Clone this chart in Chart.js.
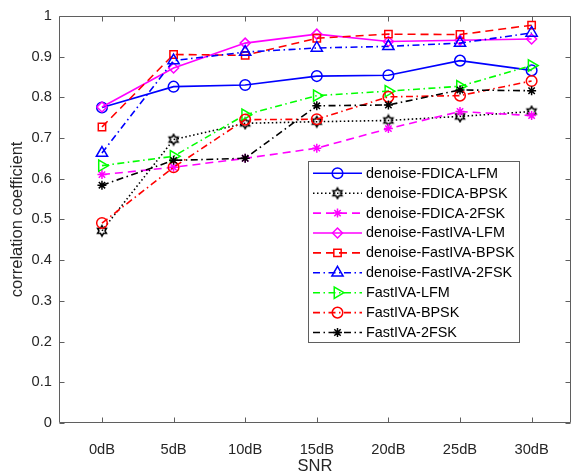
<!DOCTYPE html>
<html>
<head>
<meta charset="utf-8">
<script src="https://cdn.jsdelivr.net/npm/chart.js@4/dist/chart.umd.min.js"></script>
<style>
  html, body { margin: 0; padding: 0; background: #fff; }
  canvas { display: block; }
</style>
</head>
<body>
<canvas id="chart" width="579" height="473"></canvas>
<script>
const SNR_LABELS = ['0dB', '5dB', '10dB', '15dB', '20dB', '25dB', '30dB'];
const Y_TICKS = [0, 0.1, 0.2, 0.3, 0.4, 0.5, 0.6, 0.7, 0.8, 0.9, 1];

const SERIES_NAMES = [
  'denoise-FDICA-LFM', 'denoise-FDICA-BPSK', 'denoise-FDICA-2FSK',
  'denoise-FastIVA-LFM', 'denoise-FastIVA-BPSK', 'denoise-FastIVA-2FSK',
  'FastIVA-LFM', 'FastIVA-BPSK', 'FastIVA-2FSK',
];

const dnFdicaLfm   = [0.775, 0.826, 0.830, 0.852, 0.854, 0.890, 0.866];
const dnFdicaBpsk  = [0.472, 0.696, 0.736, 0.740, 0.743, 0.753, 0.765];
const dnFdica2fsk  = [0.610, 0.628, 0.650, 0.675, 0.723, 0.765, 0.755];
const dnFastivaLfm = [0.776, 0.872, 0.933, 0.955, 0.937, 0.940, 0.943];
const dnFastivaBpsk = [0.727, 0.905, 0.903, 0.945, 0.955, 0.954, 0.977];
const dnFastiva2fsk = [0.663, 0.890, 0.911, 0.921, 0.925, 0.933, 0.958];
const fastivaLfm   = [0.632, 0.655, 0.757, 0.804, 0.815, 0.827, 0.878];
const fastivaBpsk  = [0.491, 0.628, 0.745, 0.746, 0.801, 0.804, 0.840];
const fastiva2fsk  = [0.584, 0.645, 0.650, 0.779, 0.781, 0.818, 0.816];

const FONT = "'Liberation Sans', Arial, Helvetica, sans-serif";
const INK = '#262626';
const AXIS = '#5f5f5f';

const SOLID = [];
const DASHED = [8, 5];
const DOTTED = [1.5, 2.5];
const DASHDOT = [7, 3.5, 1.5, 3.5];

// MATLAB-style six-pointed star, drawn once and reused as a point image
function hexagram(color) {
  const c = document.createElement('canvas');
  c.width = 14; c.height = 14;
  const g = c.getContext('2d');
  const R = 5.2, r = R / Math.sqrt(3);
  g.beginPath();
  for (let k = 0; k < 12; k++) {
    const a = -Math.PI / 2 + k * Math.PI / 6;
    const rad = k % 2 === 0 ? R : r;
    const px = 7 + rad * Math.cos(a), py = 7 + rad * Math.sin(a);
    if (k === 0) g.moveTo(px, py); else g.lineTo(px, py);
  }
  g.closePath();
  g.strokeStyle = color;
  g.lineWidth = 1.5;
  g.stroke();
  return c;
}

const STYLES = [
  { color: '#0000ff', dash: SOLID,   point: 'circle',   radius: 5.3 },
  { color: '#000000', dash: DOTTED,  point: hexagram('#000000'), radius: 5 },
  { color: '#ff00ff', dash: DASHED,  point: 'star',     radius: 4.5 },
  { color: '#ff00ff', dash: SOLID,   point: 'rectRot',  radius: 5 },
  { color: '#ff0000', dash: DASHED,  point: 'rect',     radius: 5.2 },
  { color: '#0000ff', dash: DASHDOT, point: 'triangle', radius: 6.5 },
  { color: '#00ff00', dash: DASHDOT, point: 'triangle', radius: 6.5, rotation: 90 },
  { color: '#ff0000', dash: DASHDOT, point: 'circle',   radius: 5.3 },
  { color: '#000000', dash: DASHDOT, point: 'star',     radius: 4.5 },
];

const SERIES = [dnFdicaLfm, dnFdicaBpsk, dnFdica2fsk, dnFastivaLfm, dnFastivaBpsk,
  dnFastiva2fsk, fastivaLfm, fastivaBpsk, fastiva2fsk];

const datasets = SERIES.map((vals, i) => {
  const s = STYLES[i];
  return {
    label: SERIES_NAMES[i],
    data: vals.map((v, k) => ({ x: k, y: v })),
    borderColor: s.color,
    borderWidth: 1.6,
    borderDash: s.dash,
    tension: 0,
    fill: false,
    pointStyle: s.point,
    pointRadius: s.radius,
    pointRotation: s.rotation || 0,
    pointBorderColor: s.color,
    pointBackgroundColor: 'rgba(0,0,0,0)',
    pointBorderWidth: 1.5,
    order: -i, // later series on top
  };
});

// box around the plot with inward ticks on all four sides
const frame = {
  id: 'frame',
  beforeDatasetsDraw(chart) {
    const { ctx, chartArea: a, scales: { x, y } } = chart;
    const L = Math.round(a.left) + 0.5, R = Math.round(a.right) - 0.5;
    const T = Math.round(a.top) + 0.5, B = Math.round(a.bottom) - 0.5;
    ctx.save();
    ctx.strokeStyle = AXIS;
    ctx.lineWidth = 1;
    ctx.beginPath();
    ctx.rect(L, T, R - L, B - T);
    x.ticks.forEach(t => {
      const px = Math.round(x.getPixelForValue(t.value)) + 0.5;
      ctx.moveTo(px, B); ctx.lineTo(px, B - 5);
      ctx.moveTo(px, T); ctx.lineTo(px, T + 5);
    });
    y.ticks.forEach(t => {
      const py = Math.round(y.getPixelForValue(t.value)) + 0.5;
      ctx.moveTo(L, py); ctx.lineTo(L + 5, py);
      ctx.moveTo(R, py); ctx.lineTo(R - 5, py);
    });
    ctx.stroke();
    ctx.restore();
  },
};

// boxed legend inside the axes, line sample with marker in the middle
const boxLegend = {
  id: 'boxLegend',
  afterDraw(chart) {
    const { ctx } = chart;
    const bx = 308.5, by = 161.5, bw = 211, bh = 181;
    ctx.save();
    ctx.fillStyle = '#fff';
    ctx.fillRect(bx, by, bw, bh);
    ctx.strokeStyle = AXIS;
    ctx.lineWidth = 1;
    ctx.strokeRect(bx, by, bw, bh);
    chart.data.datasets.forEach((ds, i) => {
      const cy = 173.3 + i * 19.9;
      ctx.save();
      ctx.strokeStyle = ds.borderColor;
      ctx.lineWidth = ds.borderWidth;
      ctx.setLineDash(ds.borderDash);
      ctx.beginPath();
      ctx.moveTo(313, cy);
      ctx.lineTo(362, cy);
      ctx.stroke();
      ctx.setLineDash([]);
      ctx.fillStyle = 'rgba(0,0,0,0)';
      ctx.lineWidth = ds.pointBorderWidth;
      Chart.helpers.drawPoint(ctx, {
        pointStyle: ds.pointStyle,
        radius: ds.pointRadius,
        rotation: ds.pointRotation,
        borderWidth: ds.pointBorderWidth,
      }, 337.5, cy);
      ctx.restore();
      ctx.fillStyle = '#000';
      ctx.font = `14.4px ${FONT}`;
      ctx.textAlign = 'left';
      ctx.textBaseline = 'middle';
      ctx.fillText(ds.label, 366, cy + 0.5);
    });
    ctx.restore();
  },
};

new Chart(document.getElementById('chart'), {
  type: 'line',
  data: { datasets },
  plugins: [frame, boxLegend],
  options: {
    responsive: false,
    animation: false,
    events: [],
    layout: { padding: { top: 13, right: 2, left: 0, bottom: 0 } },
    plugins: { legend: { display: false }, tooltip: { enabled: false } },
    scales: {
      x: {
        type: 'linear',
        min: -0.6,
        max: 6.55,
        afterBuildTicks: s => { s.ticks = SNR_LABELS.map((_, i) => ({ value: i })); },
        afterFit: s => { s.height = 50; },
        grid: { display: false, drawTicks: false },
        border: { display: false },
        ticks: {
          callback: v => SNR_LABELS[v],
          autoSkip: false,
          maxRotation: 0,
          padding: 18,
          color: INK,
          font: { family: FONT, size: 14.7 },
        },
        title: {
          display: true,
          text: 'SNR',
          color: INK,
          padding: { bottom: -2 },
          font: { family: FONT, size: 16.5, lineHeight: 1 },
        },
      },
      y: {
        min: 0,
        max: 1,
        afterBuildTicks: s => { s.ticks = Y_TICKS.map(v => ({ value: v })); },
        afterFit: s => { s.width = 59; },
        grid: { display: false, drawTicks: false },
        border: { display: false },
        ticks: {
          callback: v => String(+v.toFixed(1)),
          padding: 7,
          color: INK,
          font: { family: FONT, size: 14.7 },
        },
        title: {
          display: true,
          text: 'correlation coefficient',
          color: INK,
          padding: { top: 8 },
          font: { family: FONT, size: 16.5 },
        },
      },
    },
  },
});
</script>
</body>
</html>
